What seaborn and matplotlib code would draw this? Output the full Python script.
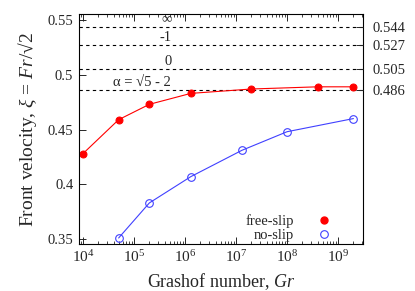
import matplotlib
matplotlib.use('Agg')
import matplotlib.pyplot as plt
import seaborn as sns
import pandas as pd
from matplotlib.lines import Line2D
import matplotlib.ticker as ticker

# Data
gr_free = [1e4, 5e4, 2e5, 1.3e6, 2e7, 4e8, 2e9]
xi_free = [0.428, 0.459, 0.473, 0.483, 0.487, 0.489, 0.489]

gr_noslip = [5e4, 2e5, 1.3e6, 1.3e7, 1e8, 2e9]
xi_noslip = [0.351, 0.383, 0.407, 0.431, 0.448, 0.460]

# theoretical limits (dashed lines) and their labels
limit_values = [0.544, 0.527, 0.505, 0.486]
limit_labels = ['0.544', '0.527', '0.505', '0.486']
limit_names = ['∞', '-1', '0', 'α = √5 - 2']

sns.set_style('ticks')
plt.rcParams['font.family'] = ['Liberation Serif', 'DejaVu Serif']
plt.rcParams['mathtext.fontset'] = 'custom'
plt.rcParams['mathtext.rm'] = 'Liberation Serif'
plt.rcParams['mathtext.it'] = 'Liberation Serif:italic'
plt.rcParams['xtick.direction'] = 'in'
plt.rcParams['ytick.direction'] = 'in'

free_df = pd.DataFrame({'Gr': gr_free, 'xi': xi_free})
noslip_df = pd.DataFrame({'Gr': gr_noslip, 'xi': xi_noslip})

fig = plt.figure(figsize=(4.15, 2.91), dpi=100)
ax = fig.add_axes([0.190, 0.1615, 0.685, 0.7905])

red = '#ff0000'
blue = '#4040ff'

for val in limit_values:
    ax.axhline(val, color='black', linestyle=(0, (3, 3)), linewidth=0.8, zorder=1)

sns.lineplot(data=free_df, x='Gr', y='xi', ax=ax, color=red, linewidth=0.8,
             marker='o', markersize=5, markeredgecolor=red, markerfacecolor=red)
sns.lineplot(data=noslip_df, x='Gr', y='xi', ax=ax, color=blue, linewidth=0.8,
             marker='o', markersize=5.5, markeredgecolor=blue,
             markerfacecolor='none', markeredgewidth=0.8)

ax.set_xscale('log')
ax.set_xlim(8.3e3, 3.1e9)
ax.set_ylim(0.3455, 0.5555)
ax.set_xticks([1e4, 1e5, 1e6, 1e7, 1e8, 1e9])
ax.xaxis.set_minor_locator(ticker.LogLocator(base=10, subs=range(2, 10), numticks=20))
ax.xaxis.set_minor_formatter(ticker.NullFormatter())
ax.set_yticks([0.35, 0.4, 0.45, 0.5, 0.55])
ax.set_yticklabels(['0.35', '0.4', '0.45', '0.5', '0.55'])
ax.tick_params(axis='both', which='major', labelsize=10.5, length=5, width=0.7,
               top=True, pad=4)
ax.tick_params(axis='x', which='major', labelsize=11)
ax.tick_params(axis='x', which='minor', length=2.5, width=0.6, top=True)

ax.set_xlabel('Grashof number, $\\mathit{Gr}$', fontsize=13, labelpad=4)
ax.set_ylabel('Front velocity, $\\mathit{\\xi}$ = $\\mathit{Fr}$/√2', fontsize=14,
              labelpad=6)

for sp in ax.spines.values():
    sp.set_linewidth(0.8)
    sp.set_color('black')

# names of the limits, placed just above each dashed line
name_x = [4.3e5, 4.1e5, 4.6e5, 1.4e5]
for xv, val, name in zip(name_x, limit_values, limit_names):
    ax.text(xv, val + 0.0068, name, fontsize=10.5, ha='center', va='center')

# right axis with the limit values
ax2 = ax.twinx()
ax2.set_ylim(ax.get_ylim())
ax2.set_yticks(limit_values)
ax2.set_yticklabels(limit_labels)
ax2.tick_params(axis='y', labelsize=10.5, length=5, width=0.7, pad=7)
for sp in ax2.spines.values():
    sp.set_visible(False)

handles = [Line2D([], [], linestyle='none', marker='o', markersize=5,
                  color=red),
           Line2D([], [], linestyle='none', marker='o', markersize=5.5,
                  markeredgecolor=blue, markerfacecolor='none',
                  markeredgewidth=0.8)]
ax.legend(handles, ['free-slip', 'no-slip'], loc='lower right',
          markerfirst=False, frameon=False, fontsize=10.5,
          handletextpad=1.1, labelspacing=0.0, borderaxespad=0.0,
          bbox_to_anchor=(0.935, -0.015))

plt.savefig('out.png', dpi=100)
